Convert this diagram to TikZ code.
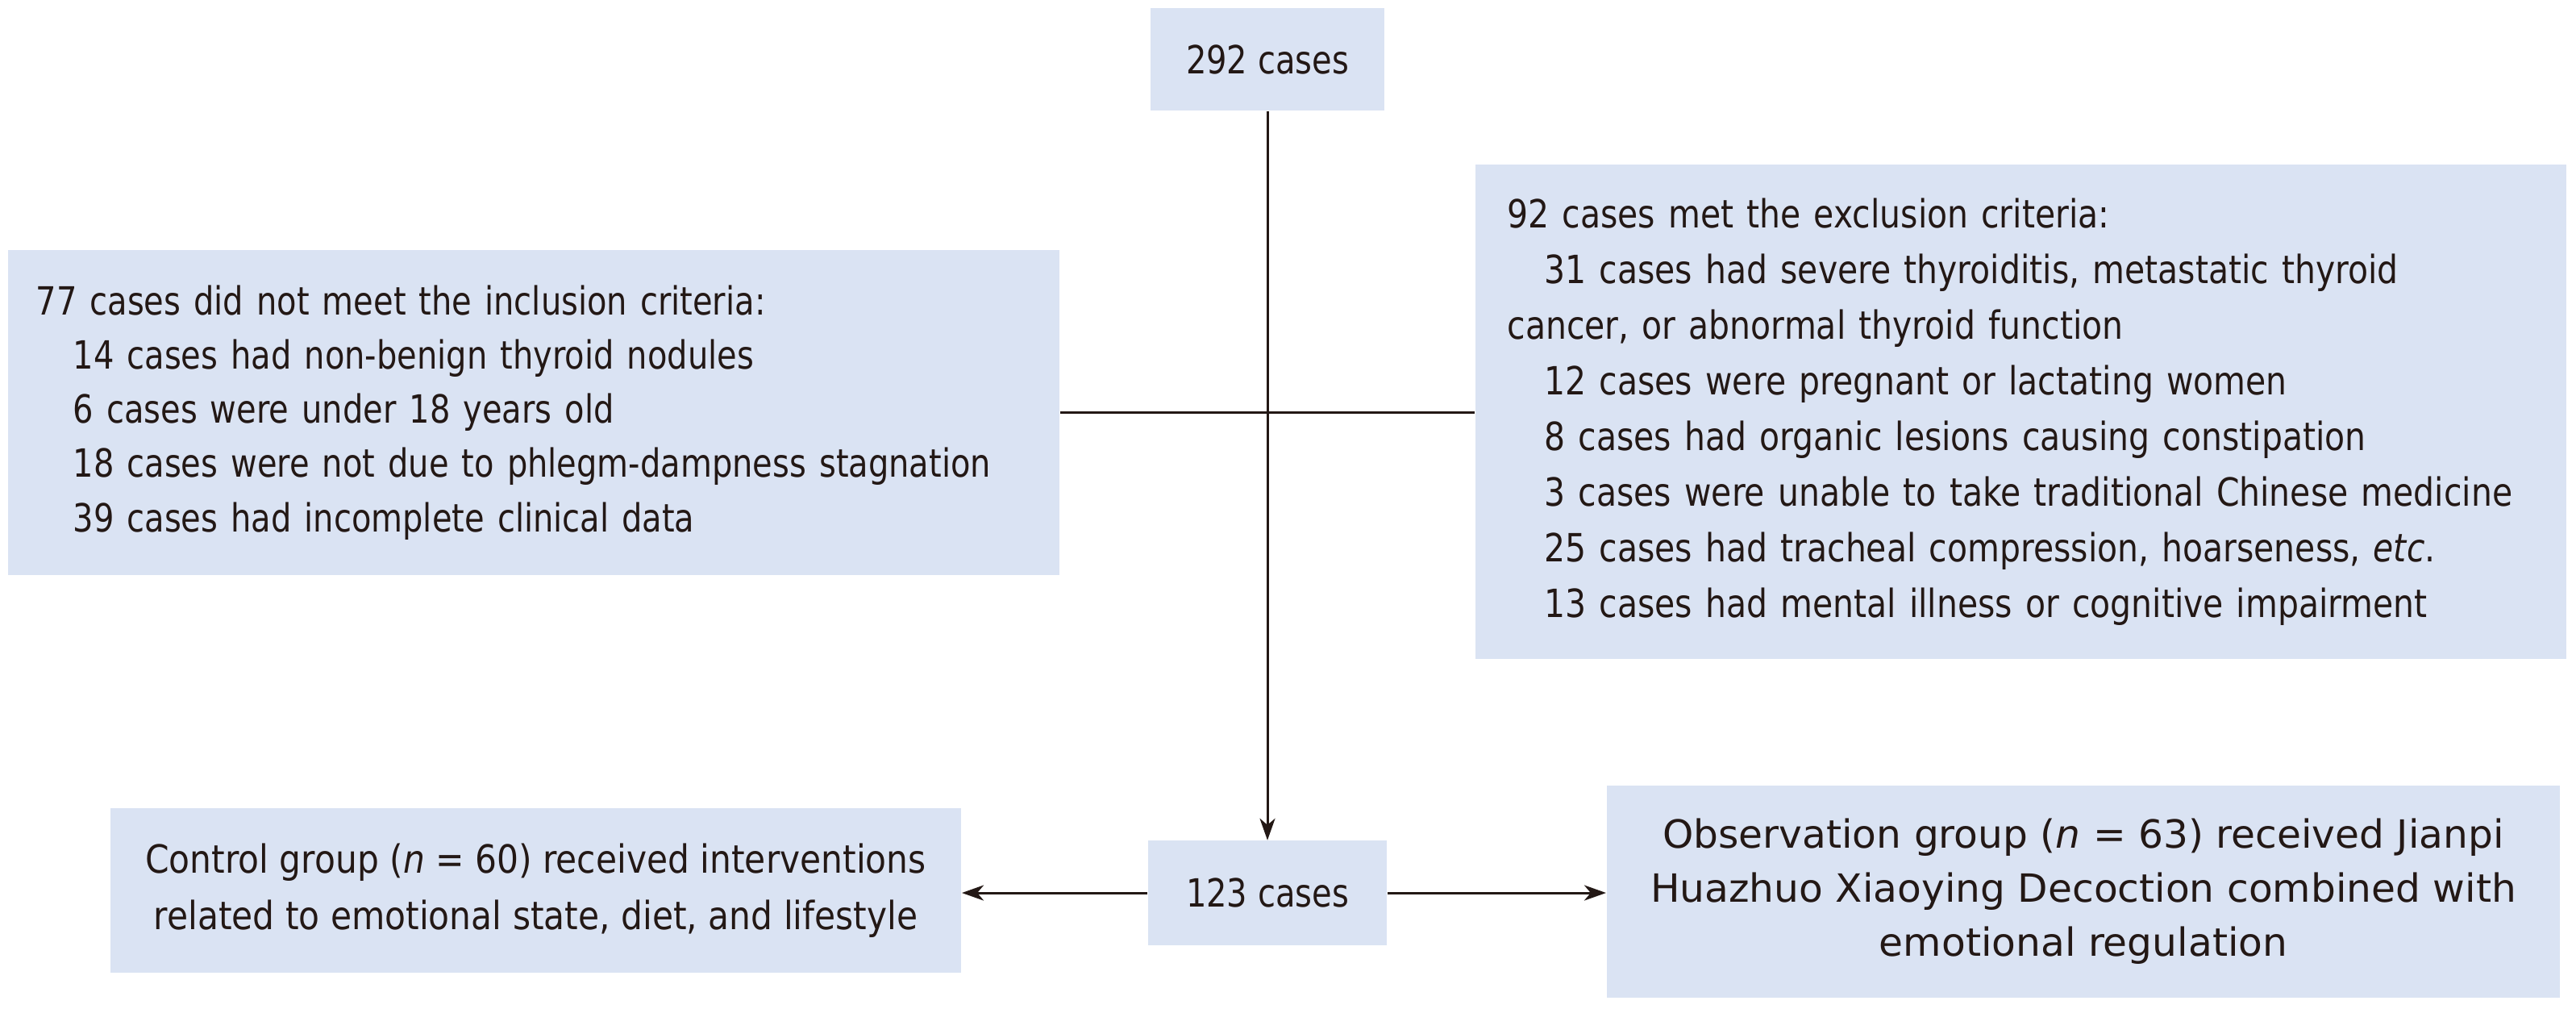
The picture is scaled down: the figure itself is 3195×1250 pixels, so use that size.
\documentclass[tikz,border=0pt]{standalone}
\usepackage{fontspec}
\setmainfont{DejaVu Sans}[FakeStretch=0.83]
\newfontfamily\rightfont{DejaVu Sans}[FakeStretch=0.85]
\newfontfamily\ctrlfont{DejaVu Sans}[FakeStretch=0.88]
\newfontfamily\obsfont{DejaVu Sans}[FakeStretch=1.01]
\usetikzlibrary{arrows.meta}
\definecolor{boxfill}{RGB}{218,227,243}
\definecolor{ink}{RGB}{35,24,21}
\newcommand{\ind}{\hspace*{0.46cm}}
\begin{document}
\begin{tikzpicture}[x=0.01cm,y=-0.01cm,
  box/.style={fill=boxfill, draw=none, inner sep=0pt, text=ink, font=\fontsize{13.7}{19.1}\selectfont},
  conn/.style={draw=ink, line width=0.85pt},
  arr/.style={conn, -{Stealth[length=0.27cm,width=0.19cm,inset=0.08cm]}}
]
\useasboundingbox (0,0) rectangle (3195,1250);
\node[box, minimum width=2.9cm, minimum height=1.27cm] (top) at (1572,73.5) {292 cases};
\node[box, minimum width=13.04cm, minimum height=4.03cm, text width=12.34cm, align=left] (incl) at (662,511.5) {77 cases did not meet the inclusion criteria:\\
\ind 14 cases had non-benign thyroid nodules\\
\ind 6 cases were under 18 years old\\
\ind 18 cases were not due to phlegm-dampness stagnation\\
\ind 39 cases had incomplete clinical data};
\node[box, font=\rightfont\fontsize{13.7}{19.6}\selectfont, minimum width=13.53cm, minimum height=6.13cm, text width=12.73cm, align=left] (excl) at (2506.5,510.5) {92 cases met the exclusion criteria:\\
\ind 31 cases had severe thyroiditis, metastatic thyroid\\
cancer, or abnormal thyroid function\\
\ind 12 cases were pregnant or lactating women\\
\ind 8 cases had organic lesions causing constipation\\
\ind 3 cases were unable to take traditional Chinese medicine\\
\ind 25 cases had tracheal compression, hoarseness, \textit{etc}.\\
\ind 13 cases had mental illness or cognitive impairment};
\node[box, minimum width=2.96cm, minimum height=1.29cm] (mid) at (1572,1107) {123 cases};
\node[box, font=\ctrlfont\fontsize{13.7}{19.9}\selectfont, minimum width=10.55cm, minimum height=2.04cm, align=center] (ctrl) at (664.5,1104) {Control group (\textit{n} = 60) received interventions\\related to emotional state, diet, and lifestyle};
\node[box, font=\obsfont\fontsize{13.7}{19.1}\selectfont, minimum width=11.82cm, minimum height=2.63cm, align=center] (obs) at (2584,1105.5) {Observation group (\textit{n} = 63) received Jianpi\\Huazhuo Xiaoying Decoction combined with\\emotional regulation};
\draw[conn] (incl.east) -- (incl.east -| excl.west);
\draw[arr] (top.south) -- (mid.north);
\draw[arr] (mid.west) -- (mid.west -| ctrl.east);
\draw[arr] (mid.east) -- (mid.east -| obs.west);
\end{tikzpicture}
\end{document}
